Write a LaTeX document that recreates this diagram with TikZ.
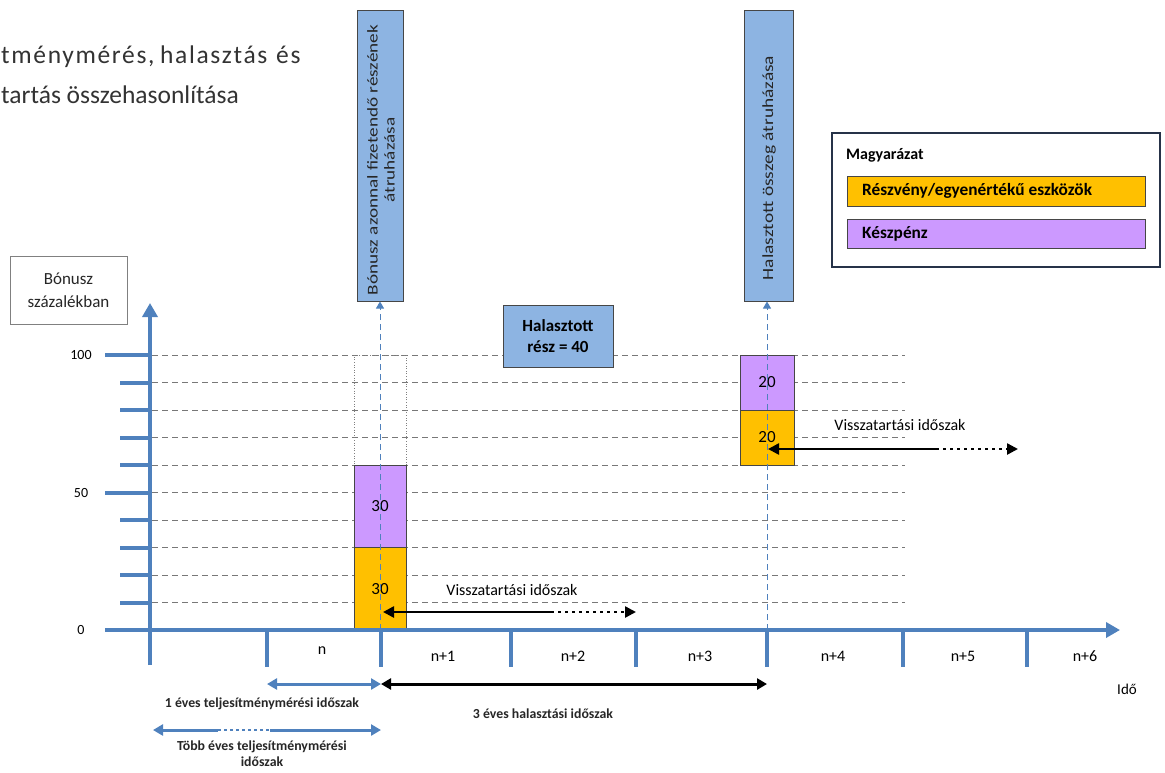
\documentclass[tikz,border=0pt]{standalone}
\usepackage{fontspec}
\setmainfont{Carlito}
\newfontfamily\stretchA[FakeStretch=1.28]{Carlito}
\newfontfamily\stretchB[FakeStretch=1.25]{Carlito}
\newfontfamily\spacedfont[LetterSpace=6.5]{Carlito}
\usetikzlibrary{arrows.meta}
\definecolor{axblue}{RGB}{79,129,189}
\definecolor{boxblue}{RGB}{141,180,226}
\definecolor{corange}{RGB}{255,192,0}
\definecolor{cpurple}{RGB}{204,153,255}
\definecolor{gridgray}{RGB}{120,120,120}
\definecolor{edge}{RGB}{70,70,70}
\definecolor{legedge}{RGB}{38,50,72}
\begin{document}
\begin{tikzpicture}[x=1pt,y=-1pt,
  axisline/.style={axblue, line width=4},
  xtick/.style={axblue, line width=4},
  gridline/.style={gridgray, line width=1, dash pattern=on 6pt off 4pt},
  vline/.style={axblue, line width=1, dash pattern=on 6pt off 4pt},
  bar/.style={draw=edge, line width=0.8, inner sep=0, font=\fontsize{17}{17}\selectfont},
  topbox/.style={draw=edge, fill=boxblue, line width=1, inner sep=0},
  lbl/.style={inner sep=0, font=\fontsize{16}{18}\selectfont},
  small/.style={inner sep=0, font=\bfseries\fontsize{13.8}{16}\selectfont, align=center, text=black!85},
  ret/.style={black, line width=2.5},
  retdot/.style={black, line width=2.5, dash pattern=on 3pt off 4pt},
  titlef/.style={anchor=base west, inner sep=0, font=\fontsize{25.5}{30}\selectfont, text=black!80},
  titlesp/.style={anchor=base west, inner sep=0, font=\spacedfont\fontsize{25.5}{30}\selectfont, text=black!80},
]
\useasboundingbox (0,0) rectangle (1165,772);

% title
\node[titlesp] (t1a) at (1,63) {tménymérés,};
\node[titlesp] (t1b) at (160,63) {halasztás};
\node[titlesp] (t1c) at (276,63) {és};
\node[titlef] (t2) at (1,103) {tartás összehasonlítása};

% y label box
\node[draw=gray, line width=0.6, minimum width=117, minimum height=68, align=center, inner sep=0,
      font=\fontsize{17}{23}\selectfont, text=black!85] (ylab) at (68.5,290) {Bónusz\\százalékban};

% grid lines
\foreach \y in {355,382.5,410,437.5,465,492.5,520,547.5,575,602.5}
  \draw[gridline] (152,\y) -- (905,\y);

% y ticks
\foreach \y in {382.5,410,437.5,465,520,547.5,575,602.5}
  \draw[xtick] (120,\y) -- (150,\y);
\foreach \y in {355,492.5}
  \draw[xtick] (105,\y) -- (150,\y);

\node[lbl, font=\fontsize{14}{15}\selectfont] (l100) at (81,355) {100};
\node[lbl, font=\fontsize{14}{15}\selectfont] (l50) at (81,492.5) {50};
\node[lbl, font=\fontsize{14}{15}\selectfont] (l0) at (81,630) {0};

% bars
\node[draw=gray, dotted, line width=0.6, minimum width=52, minimum height=110, inner sep=0] (b1e) at (380,410) {};
\node[bar, fill=cpurple, minimum width=52, minimum height=82.5] (b1p) at (380,506.25) {30};
\node[bar, fill=corange, minimum width=52, minimum height=82.5] (b1o) at (380,588.75) {30};
\node[bar, fill=cpurple, minimum width=54, minimum height=55] (b2p) at (767,382.5) {20};
\node[bar, fill=corange, minimum width=54, minimum height=55] (b2o) at (767,437.5) {20};

% top boxes
\node[topbox, minimum width=46, minimum height=291] (tb1) at (380,155.5) {};
\node[rotate=90, align=center, inner sep=0, font=\stretchA\fontsize{15}{17}\selectfont, text=black!85] (tb1t) at (381,160) {Bónusz azonnal fizetendő részének\\átruházása};
\node[topbox, minimum width=49, minimum height=291] (tb2) at (768.5,155.5) {};
\node[rotate=90, inner sep=0, font=\stretchB\fontsize{15.5}{18}\selectfont, text=black!85] (tb2t) at (769,168) {Halasztott összeg átruházása};

% deferred box
\node[topbox, minimum width=110, minimum height=62, align=center,
      font=\bfseries\fontsize{17}{21}\selectfont] (def) at (558,336) {Halasztott\\rész = 40};

% blue dashed verticals
\coordinate (v1) at (380,630);
\coordinate (v2) at (767,630);
\draw[vline, -{Triangle[length=7,width=8]}] (v1) -- (tb1.south);
\draw[vline, -{Triangle[length=7,width=8]}] (v2) -- (tb2.south -| v2);

% axes
\coordinate (ybot) at (150,665);
\coordinate (ytop) at (150,303);
\coordinate (xl) at (105,630);
\coordinate (xr) at (1120,630);
\draw[axisline, -{Triangle[length=14,width=15]}] (ybot) -- (ytop);
\draw[axisline, -{Triangle[length=14,width=15]}] (xl) -- (xr);
\foreach \x in {267,381,511,636,767,903,1027}
  \draw[xtick] (\x,630) -- (\x,667);

% period labels
\node[lbl] (pn) at (322,651) {n};
\node[lbl] (pn1) at (443,656) {n+1};
\node[lbl] (pn2) at (573,656) {n+2};
\node[lbl] (pn3) at (700,656) {n+3};
\node[lbl] (pn4) at (833,656) {n+4};
\node[lbl] (pn5) at (963,656) {n+5};
\node[lbl] (pn6) at (1085,656) {n+6};
\node[lbl, font=\fontsize{15}{17}\selectfont] (ido) at (1127,689) {Idő};

% retention arrows
\coordinate (r1a) at (383,612);
\coordinate (r1m) at (551,612);
\coordinate (r1b) at (636,612);
\draw[ret, {Triangle[length=11,width=11]}-] (r1a) -- (r1m);
\draw[retdot, -{Triangle[length=11,width=11]}] (r1m) -- (r1b);
\node[lbl] (rl1) at (512,590) {Visszatartási időszak};

\coordinate (r2a) at (768,449);
\coordinate (r2m) at (936,449);
\coordinate (r2b) at (1018,449);
\draw[ret, {Triangle[length=11,width=11]}-] (r2a) -- (r2m);
\draw[retdot, -{Triangle[length=11,width=11]}] (r2m) -- (r2b);
\node[lbl] (rl2) at (900,425) {Visszatartási időszak};

% bottom period arrows
\coordinate (p1a) at (267,684);
\coordinate (p1b) at (381,684);
\coordinate (p2b) at (767,684);
\draw[axblue, line width=3, {Triangle[length=10,width=11]}-{Triangle[length=10,width=11]}] (p1a) -- (p1b);
\draw[black, line width=3, {Triangle[length=10,width=11]}-{Triangle[length=10,width=11]}] (p1b) -- (p2b);
\node[small] (pl1) at (262,704) {1 éves teljesítménymérési időszak};
\node[small] (pl2) at (543,714) {3 éves halasztási időszak};

\coordinate (m1) at (153,730);
\coordinate (m2) at (218,730);
\coordinate (m3) at (270,730);
\coordinate (m4) at (381,730);
\draw[axblue, line width=3, {Triangle[length=10,width=11]}-] (m1) -- (m2);
\draw[axblue, line width=2.5, dash pattern=on 3pt off 3pt] (m2) -- (m3);
\draw[axblue, line width=3, -{Triangle[length=10,width=11]}] (m3) -- (m4);
\node[small] (pl3) at (262,754) {Több éves teljesítménymérési\\időszak};

% legend
\node[draw=legedge, line width=1.6, minimum width=328, minimum height=134, inner sep=0] (leg) at (996,200) {};
\node[anchor=west, inner sep=0, font=\bfseries\fontsize{16}{18}\selectfont] (legt) at (846,155) {Magyarázat};
\node[draw=edge, line width=0.8, fill=corange, minimum width=298, minimum height=30, inner sep=0] (lo) at (996,191) {};
\node[anchor=west, inner sep=0, font=\bfseries\fontsize{17.3}{19}\selectfont] (lot) at (862,191) {Részvény/egyenértékű eszközök};
\node[draw=edge, line width=0.8, fill=cpurple, minimum width=298, minimum height=29, inner sep=0] (lp) at (996,233.5) {};
\node[anchor=west, inner sep=0, font=\bfseries\fontsize{17.3}{19}\selectfont] (lpt) at (862,233.5) {Készpénz};
\end{tikzpicture}
\end{document}
